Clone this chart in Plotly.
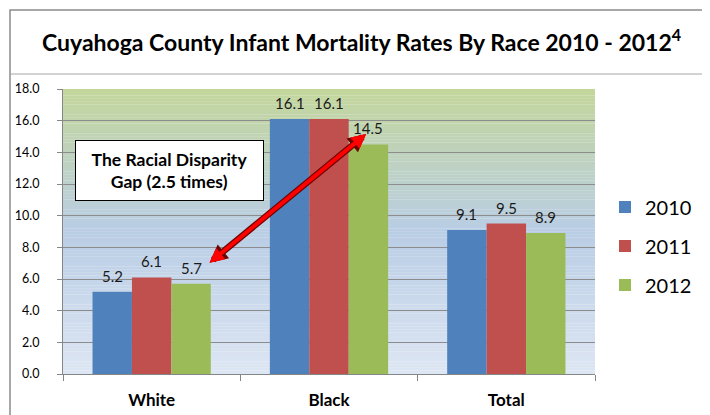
import plotly.graph_objects as go

# ---- data ----
categories = ["White", "Black", "Total"]
series_names = ["2010", "2011", "2012"]
values_2010 = [5.2, 16.1, 9.1]
values_2011 = [6.1, 16.1, 9.5]
values_2012 = [5.7, 14.5, 8.9]
bar_colors = ["#4F81BD", "#C0504D", "#9BBB59"]
y_ticks = [0, 2, 4, 6, 8, 10, 12, 14, 16, 18]
title_text = "Cuyahoga County Infant Mortality Rates By Race 2010 - 2012"
note_text = "The Racial Disparity<br>Gap (2.5 times)"

all_values = [values_2010, values_2011, values_2012]

FONT = "Lato"
OFF = 8  # page body margin
fig = go.Figure()

for j, (name, vals, col) in enumerate(zip(series_names, all_values, bar_colors)):
    fig.add_trace(go.Bar(
        x=categories, y=vals, name=name, marker=dict(color=col, line=dict(width=0)),
        legendgroup=name,
    ))

# geometry in page pixels
PW, PH = 710, 415
L, R, T, B = 63, 595, 89, 374
W, H = PW - OFF, PH - OFF
pw, ph = R - L, B - T

def px_x(p):
    return (p - L) / pw

def px_y(p):
    return (B - p) / ph

shapes = []
# gradient background (bottom light blue -> blue -> green at top)
stops = [(0.0, (221, 230, 243)), (9.0, (185, 205, 229)), (18.0, (195, 214, 155))]
N = 90
for k in range(N):
    y0 = 18.0 * k / N
    y1 = 18.0 * (k + 1) / N
    ym = (y0 + y1) / 2
    for (a, ca), (b, cb) in zip(stops[:-1], stops[1:]):
        if a <= ym <= b:
            t = (ym - a) / (b - a)
            c = tuple(round(ca[i] + (cb[i] - ca[i]) * t) for i in range(3))
            break
    shapes.append(dict(type="rect", xref="paper", yref="y", x0=0, x1=1, y0=y0, y1=y1 + 0.01,
                       fillcolor="rgb(%d,%d,%d)" % c, line=dict(width=0), layer="below"))

# outer frame and title separator
frame_col = "#8C8C8C"
shapes.append(dict(type="rect", xref="paper", yref="paper",
                   x0=px_x(10), x1=px_x(703), y0=px_y(10), y1=px_y(440),
                   line=dict(color=frame_col, width=1.5), fillcolor="rgba(0,0,0,0)", layer="below"))
shapes.append(dict(type="line", xref="paper", yref="paper",
                   x0=px_x(10), x1=px_x(703), y0=px_y(74), y1=px_y(74),
                   line=dict(color="#A6A6A6", width=1), layer="below"))

annotations = []
# data labels
offsets = [-39.4, 0, 39.4]
for j, vals in enumerate(all_values):
    for cat, v in zip(categories, vals):
        annotations.append(dict(x=cat, y=v, xref="x", yref="y", text="%.1f" % v,
                                showarrow=False, xshift=offsets[j], yshift=16,
                                yanchor="middle", font=dict(family=FONT, size=15, color="#1a1a1a")))

# double-headed arrow (outline + fill)
arrow_start = (0.318, 6.95)
arrow_end = (1.209, 15.16)
for colr, wdt, sz in [("#6e0000", 6.5, 0.55), ("#FF0000", 4, 0.72)]:
    annotations.append(dict(x=arrow_end[0], y=arrow_end[1], ax=arrow_start[0], ay=arrow_start[1],
                            xref="x", yref="y", axref="x", ayref="y", text="",
                            showarrow=True, arrowhead=2, arrowside="end+start",
                            arrowsize=sz, arrowwidth=wdt, arrowcolor=colr,
                            standoff=0, startstandoff=0))

# text box
annotations.append(dict(x=px_x(169.5), y=px_y(170.5), xref="paper", yref="paper",
                        text="<b>" + note_text + "</b>", showarrow=False,
                        xanchor="center", yanchor="middle", width=185, height=57,
                        bgcolor="white", bordercolor="black", borderwidth=1,
                        font=dict(family=FONT, size=17.5, color="black")))

# title
annotations.append(dict(x=px_x(361), y=px_y(41), xref="paper", yref="paper",
                        text="<b>" + title_text + "<sup>4</sup></b>", showarrow=False,
                        xanchor="center", yanchor="middle",
                        font=dict(family=FONT, size=23, color="black")))

fig.update_layout(
    width=W, height=H,
    margin=dict(l=L - OFF, r=PW - R, t=T - OFF, b=PH - B, autoexpand=False),
    paper_bgcolor="white", plot_bgcolor="rgba(0,0,0,0)",
    barmode="group", bargap=0.333, bargroupgap=0,
    shapes=shapes, annotations=annotations,
    showlegend=True,
    legend=dict(x=px_x(605), y=px_y(246), xanchor="left", yanchor="middle",
                font=dict(family=FONT, size=20, color="black"),
                tracegroupgap=10, bgcolor="rgba(0,0,0,0)", traceorder="grouped"),
    font=dict(family=FONT, color="black"),
)

fig.update_xaxes(
    showline=True, linecolor="#868686", linewidth=1,
    ticks="outside", ticklen=6, tickcolor="#868686", tickson="boundaries",
    tickfont=dict(family=FONT, size=17, color="black", weight="bold"),
    ticklabelstandoff=11, showgrid=False,
)
fig.update_yaxes(
    range=[0, 18], tickvals=y_ticks, ticktext=["%.1f" % v for v in y_ticks],
    showline=True, linecolor="#868686", linewidth=1,
    ticks="outside", ticklen=5, tickcolor="#868686",
    showgrid=True, gridcolor="#8C8C8C", gridwidth=1, zeroline=False,
    tickfont=dict(family=FONT, size=12.5, color="black"),
    ticklabelstandoff=15,
)

fig.write_html("out.html")
